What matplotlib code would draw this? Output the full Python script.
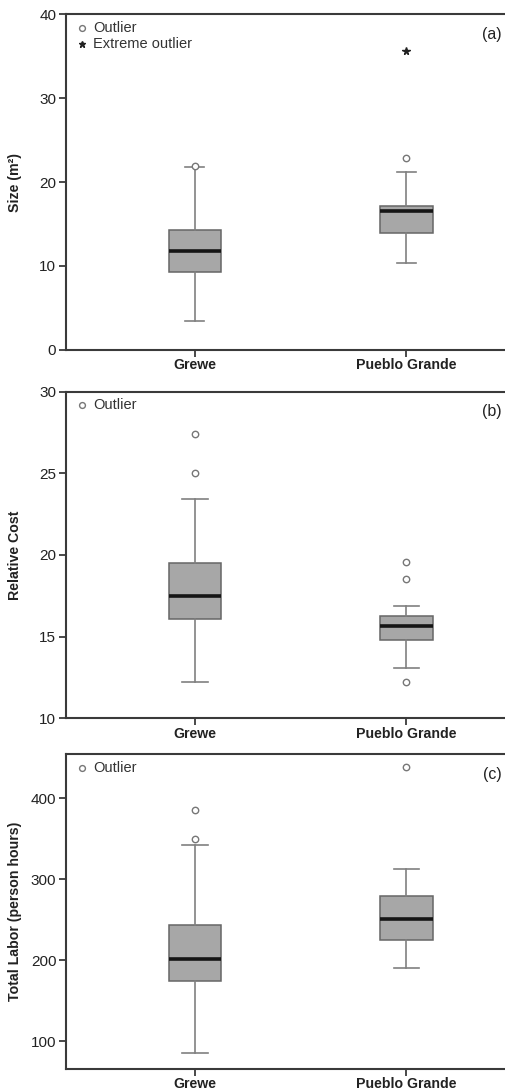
import matplotlib
matplotlib.use("Agg")
import matplotlib.pyplot as plt

plt.rcParams['font.family'] = ['Liberation Sans', 'DejaVu Sans']

sites = ["Grewe", "Pueblo Grande"]

# Panel (a) Size (m²)
a_whislo = [3.5, 10.3]
a_q1 = [9.3, 13.9]
a_med = [11.8, 16.6]
a_q3 = [14.3, 17.2]
a_whishi = [21.8, 21.2]
a_outliers = [[21.9], [22.8]]
a_extreme = [[], [35.6]]

# Panel (b) Relative Cost
b_whislo = [12.25, 13.05]
b_q1 = [16.1, 14.8]
b_med = [17.5, 15.65]
b_q3 = [19.5, 16.25]
b_whishi = [23.45, 16.85]
b_outliers = [[27.4, 25.0], [19.6, 18.5, 12.25]]

# Panel (c) Total Labor (person hours)
c_whislo = [86, 190]
c_q1 = [174, 225]
c_med = [202, 251]
c_q3 = [243, 279]
c_whishi = [342, 312]
c_outliers = [[385, 349], [438]]

W, H = 505, 1091
fig = plt.figure(figsize=(W / 100, H / 100), dpi=100)

def fy(px):
    return 1 - px / H

panels = [
    dict(top=14, bot=350, lo=a_whislo, q1=a_q1, med=a_med, q3=a_q3, hi=a_whishi,
         out=a_outliers, ext=a_extreme, ylim=(0, 40), yticks=[0, 10, 20, 30, 40],
         ylabel="Size (m²)", tag="(a)", legend_ext=True, cap=0.09),
    dict(top=391.7, bot=718.3, lo=b_whislo, q1=b_q1, med=b_med, q3=b_q3, hi=b_whishi,
         out=b_outliers, ext=None, ylim=(10, 30), yticks=[10, 15, 20, 25, 30],
         ylabel="Relative Cost", tag="(b)", legend_ext=False, cap=0.12),
    dict(top=754.3, bot=1069, lo=c_whislo, q1=c_q1, med=c_med, q3=c_q3, hi=c_whishi,
         out=c_outliers, ext=None, ylim=(66, 454), yticks=[100, 200, 300, 400],
         ylabel="Total Labor (person hours)", tag="(c)", legend_ext=False, cap=0.12),
]

left_px = 66
right_px = 512
spine_col = "#3a3a3a"
edge_col = "#666666"
whisk_col = "#808080"
fill_col = "#a7a7a7"
out_col = "#777777"

for p in panels:
    ax = fig.add_axes([left_px / W, fy(p['bot']), (right_px - left_px) / W,
                       (p['bot'] - p['top']) / H])
    stats = []
    for i in range(2):
        stats.append(dict(med=p['med'][i], q1=p['q1'][i], q3=p['q3'][i],
                          whislo=p['lo'][i], whishi=p['hi'][i],
                          fliers=p['out'][i], label=sites[i]))
    ax.bxp(stats, positions=[1, 2], widths=0.25, capwidths=p['cap'],
           patch_artist=True, showfliers=True,
           boxprops=dict(facecolor=fill_col, edgecolor=edge_col, linewidth=1.1),
           medianprops=dict(color="#151515", linewidth=2.6, solid_capstyle='butt'),
           whiskerprops=dict(color=whisk_col, linewidth=1.2),
           capprops=dict(color=whisk_col, linewidth=1.2),
           flierprops=dict(marker='o', markerfacecolor='white', markeredgecolor=out_col,
                           markersize=4.6, markeredgewidth=1.0, linestyle='none'))
    if p['ext'] is not None:
        for i, vals in enumerate(p['ext']):
            if vals:
                ax.plot([i + 1] * len(vals), vals, linestyle='none', marker='*',
                        color='#222222', markersize=5.5)
    ax.set_xlim(0.39, 2.5)
    ax.set_ylim(*p['ylim'])
    ax.set_yticks(p['yticks'])
    ax.set_xticks([1, 2])
    ax.set_xticklabels(sites, fontweight='bold', fontsize=10.2)
    ax.tick_params(axis='y', labelsize=11, length=5, width=1.3, color=spine_col,
                   labelcolor="#222222", pad=2)
    ax.tick_params(axis='x', length=5, width=1.3, color=spine_col,
                   labelcolor="#222222", pad=1)
    ax.set_ylabel(p['ylabel'], fontweight='bold', fontsize=10.2, color="#222222")
    ax.yaxis.set_label_coords(-0.099, 0.5)
    for s in ax.spines.values():
        s.set_color(spine_col)
        s.set_linewidth(1.5)
    ax.spines['right'].set_visible(False)

    hpx = p['bot'] - p['top']
    wpx = right_px - left_px
    ax.plot([16 / wpx], [1 - 13.5 / hpx], transform=ax.transAxes, marker='o',
            markerfacecolor='white', markeredgecolor=out_col, markersize=4.2,
            markeredgewidth=1.0, linestyle='none', clip_on=False)
    ax.text(27 / wpx, 1 - 13.5 / hpx, "Outlier", transform=ax.transAxes,
            fontsize=10.5, va='center', ha='left', color="#333333")
    if p['legend_ext']:
        ax.plot([16 / wpx], [1 - 30 / hpx], transform=ax.transAxes, marker='*',
                color='#222222', markersize=5, linestyle='none', clip_on=False)
        ax.text(27 / wpx, 1 - 30 / hpx, "Extreme outlier", transform=ax.transAxes,
                fontsize=10.5, va='center', ha='left', color="#333333")
    ax.text((502 - left_px) / wpx, 1 - 20 / hpx, p['tag'], transform=ax.transAxes,
            fontsize=11.5, va='center', ha='right', color="#222222")

fig.savefig("out.png", dpi=100)
